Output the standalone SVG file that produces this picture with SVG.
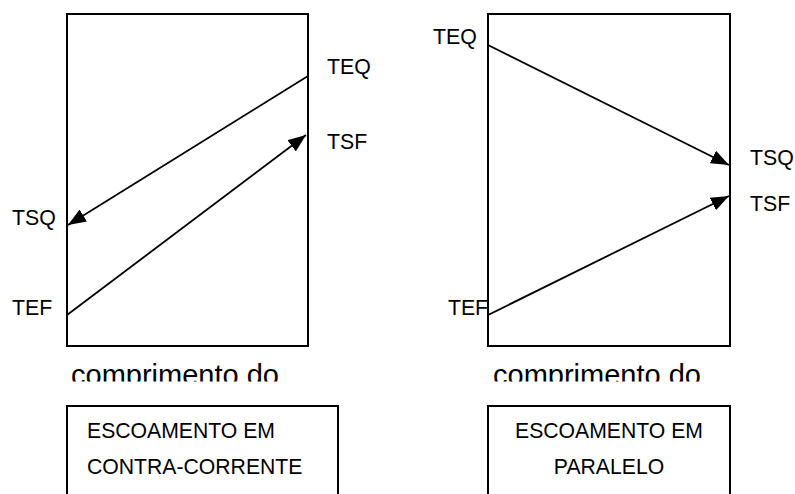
<svg xmlns="http://www.w3.org/2000/svg" width="795" height="494" viewBox="0 0 795 494">
<style>
.box{fill:none;stroke:#000;stroke-width:2}
.ln{fill:none;stroke:#000;stroke-width:1.8}
.lbl{font-family:"Liberation Sans",Arial,sans-serif;font-size:21.3px;fill:#000}
.ax{font-family:"Liberation Sans",Arial,sans-serif;font-size:29px;fill:#000}
.bt{font-family:"Liberation Sans",Arial,sans-serif;font-size:21.2px;fill:#000}
</style>
<defs>
<marker id="ah" markerUnits="userSpaceOnUse" markerWidth="18" markerHeight="14" refX="18" refY="7" orient="auto">
<path d="M0,0 L18,7 L0,14 z" fill="#000"/>
</marker>
<clipPath id="cl"><rect x="0" y="350" width="795" height="31.5"/></clipPath>
</defs>
<rect width="795" height="494" fill="#fff"/>
<g id="chart-left">
<rect class="box" x="67" y="14" width="241" height="332"/>
<text class="lbl" x="327" y="74">TEQ</text>
<text class="lbl" x="327" y="149">TSF</text>
<text class="lbl" x="12" y="225">TSQ</text>
<text class="lbl" x="12" y="315">TEF</text>
<text class="ax" x="71" y="385" clip-path="url(#cl)">comprimento do</text>
</g>
<g id="chart-right">
<rect class="box" x="488" y="14" width="242" height="332"/>
<text class="lbl" x="433" y="44">TEQ</text>
<text class="lbl" x="750" y="165">TSQ</text>
<text class="lbl" x="750" y="211">TSF</text>
<text class="lbl" x="448" y="315" textLength="40">TEF</text>
<text class="ax" x="493" y="385" clip-path="url(#cl)">comprimento do</text>
</g>
<g id="caption-left">
<rect class="box" x="67" y="406" width="271" height="100"/>
<text class="bt" x="87" y="438">ESCOAMENTO EM</text>
<text class="bt" x="87" y="474">CONTRA-CORRENTE</text>
</g>
<g id="caption-right">
<rect class="box" x="488" y="406" width="242" height="100"/>
<text class="bt" x="609" y="438" text-anchor="middle">ESCOAMENTO EM</text>
<text class="bt" x="609" y="474" text-anchor="middle">PARALELO</text>
</g>
<g id="connectors">
<line class="ln" x1="308" y1="76" x2="68" y2="225" marker-end="url(#ah)"/>
<line class="ln" x1="67" y1="315" x2="306" y2="135" marker-end="url(#ah)"/>
<line class="ln" x1="488" y1="45" x2="729" y2="165" marker-end="url(#ah)"/>
<line class="ln" x1="488" y1="315" x2="729" y2="196" marker-end="url(#ah)"/>
</g>
</svg>
